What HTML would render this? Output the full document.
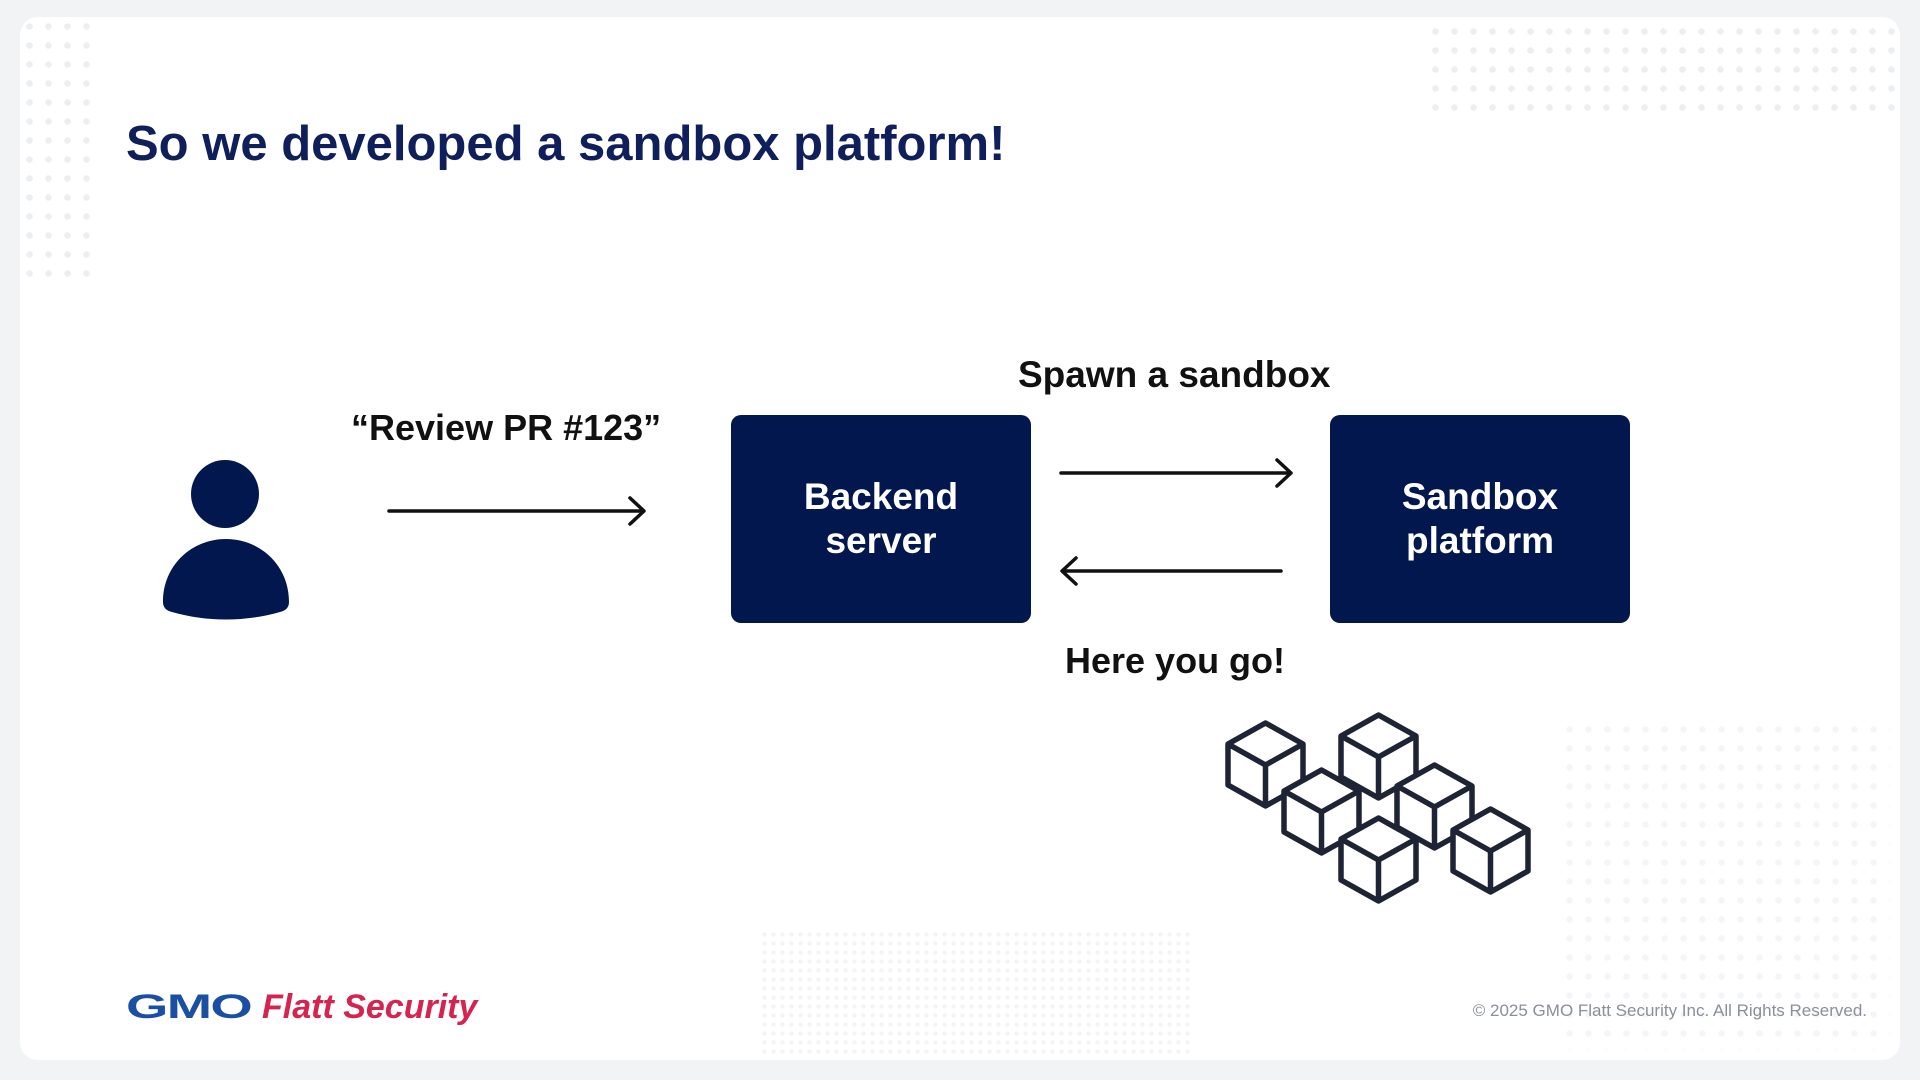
<!DOCTYPE html>
<html><head><meta charset="utf-8"><style>
body{margin:0;width:1920px;height:1080px;background:#f2f3f5;font-family:"Liberation Sans",sans-serif;overflow:hidden;position:relative}
.card{position:absolute;left:20px;top:17px;width:1880px;height:1043px;background:#fff;border-radius:18px}
.dots{position:absolute;background-image:radial-gradient(circle,#eceef1 3px,transparent 3.5px);background-size:19px 19px}
.t{position:absolute;font-weight:bold;white-space:nowrap}
.box{position:absolute;top:415px;width:300px;height:208px;background:#02174d;border-radius:10px;color:#fff;font-weight:bold;font-size:37px;line-height:44px;display:flex;align-items:center;justify-content:center;text-align:center}
</style></head><body>
<div class="card"></div>
<div class="dots" style="left:20px;top:17px;width:72px;height:270px"></div>
<div class="dots" style="left:1426px;top:22px;width:472px;height:92px"></div>
<div class="dots" style="left:1560px;top:720px;width:330px;height:330px;opacity:.6"></div>
<div class="dots" style="left:760px;top:930px;width:430px;height:125px;opacity:.5;background-size:9px 9px;background-image:radial-gradient(circle,#e6e8ec 2px,transparent 2.5px)"></div>
<div class="t" style="left:126px;top:116px;font-size:49px;color:#0f1f5c">So we developed a sandbox platform!</div>
<svg width="1920" height="1080" style="position:absolute;left:0;top:0">
<circle cx="225" cy="494" r="34" fill="#02174d"/>
<path d="M163 602 C163 565 192 539 226 539 C260 539 289 565 289 602 Q289 610 280 612 C245 622 207 622 172 612 Q163 610 163 602Z" fill="#02174d"/>
<g stroke="#111" stroke-width="3.5" fill="none" stroke-linecap="round" stroke-linejoin="round">
<line x1="389" y1="511" x2="643" y2="511"/><polyline points="630,498 644,511 630,524"/>
<line x1="1061" y1="473" x2="1290" y2="473"/><polyline points="1277,460 1291,473 1277,486"/>
<line x1="1063" y1="571" x2="1281" y2="571"/><polyline points="1076,558 1062,571 1076,584"/>
</g>
<defs><g id="cb"><path d="M37.5 0 L75 21 L75 62 L37.5 83 L0 62 L0 21Z" fill="#fff"/><path d="M37.5 0 L75 21 L75 62 L37.5 83 L0 62 L0 21Z M0 21 L37.5 42 L75 21 M37.5 42 L37.5 83" fill="none" stroke="#1e2433" stroke-width="5.5" stroke-linejoin="round"/></g></defs>
<use href="#cb" x="1228" y="723"/>
<use href="#cb" x="1341" y="715"/>
<use href="#cb" x="1284" y="770"/>
<use href="#cb" x="1397" y="765"/>
<use href="#cb" x="1341" y="818"/>
<use href="#cb" x="1453" y="809"/>
</svg>
<div class="t" style="left:351px;top:407px;font-size:36px;color:#111">“Review PR #123”</div>
<div class="box" style="left:731px">Backend<br>server</div>
<div class="box" style="left:1330px">Sandbox<br>platform</div>
<div class="t" style="left:1018px;top:354px;font-size:37px;color:#111">Spawn a sandbox</div>
<div class="t" style="left:1065px;top:640px;font-size:36px;color:#111">Here you go!</div>
<div class="t" style="left:126px;top:988px;font-size:34px;color:#1a4fa3;letter-spacing:-1px;transform:scaleX(1.6);transform-origin:left">GMO</div>
<div class="t" style="left:262px;top:988px;font-size:34px;color:#d4244f;font-style:italic">Flatt Security</div>
<div style="position:absolute;right:53px;top:1001px;font-size:17px;color:#8a8f98">© 2025 GMO Flatt Security Inc. All Rights Reserved.</div>
</body></html>
